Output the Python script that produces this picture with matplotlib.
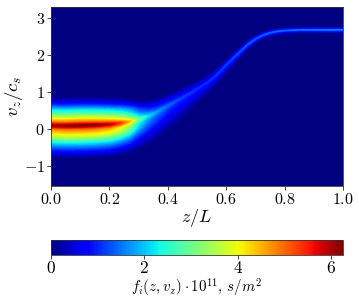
import numpy as np
import matplotlib
matplotlib.use("Agg")
import matplotlib.pyplot as plt
from matplotlib.cm import ScalarMappable
from matplotlib.colors import Normalize

plt.rcParams['mathtext.fontset'] = 'cm'
plt.rcParams['font.family'] = ['cmr10', 'DejaVu Sans']
plt.rcParams['axes.formatter.use_mathtext'] = True

# ridge, one entry per z station
z_stations = [0.0, 0.05, 0.1, 0.15, 0.2, 0.24, 0.27, 0.3, 0.33, 0.36, 0.4, 0.425, 0.45, 0.475, 0.5, 0.525, 0.55, 0.575, 0.6, 0.625, 0.65, 0.675, 0.7, 0.725, 0.75, 0.775, 0.8, 0.85, 0.9, 1.0]
ridge_v = [0.10, 0.09, 0.10, 0.11, 0.13, 0.17, 0.21, 0.27, 0.35, 0.46, 0.64, 0.75, 0.86, 0.97, 1.09, 1.21, 1.35, 1.53, 1.74, 1.93, 2.12, 2.30, 2.44, 2.54, 2.61, 2.65, 2.67, 2.69, 2.69, 2.69]
ridge_peak = [6.1, 6.2, 6.26, 6.2, 5.9, 5.3, 4.4, 3.0, 2.2, 1.75, 1.4, 1.25, 1.15, 1.08, 1.05, 1.05, 1.05, 1.1, 1.15, 1.2, 1.25, 1.3, 1.3, 1.35, 1.35, 1.4, 1.4, 1.45, 1.5, 1.55]
spread_up = [0.94, 0.94, 0.94, 0.92, 0.88, 0.82, 0.76, 0.66, 0.56, 0.48, 0.4, 0.37, 0.34, 0.32, 0.3, 0.27, 0.25, 0.22, 0.2, 0.18, 0.17, 0.15, 0.14, 0.12, 0.11, 0.1, 0.1, 0.1, 0.1, 0.1]
spread_down = [0.94, 0.94, 0.94, 0.94, 0.94, 0.93, 0.92, 0.9, 0.88, 0.85, 0.78, 0.72, 0.65, 0.56, 0.46, 0.38, 0.32, 0.28, 0.25, 0.21, 0.18, 0.15, 0.13, 0.12, 0.11, 0.1, 0.1, 0.1, 0.1, 0.1]

# across-ridge profile read at z = 0 (offset from ridge, fraction of the peak)
profile_offset = [-0.95, -0.85, -0.78, -0.7, -0.6, -0.5, -0.38, -0.26, -0.17, -0.1, -0.03, 0.0, 0.03, 0.1, 0.2, 0.3, 0.38, 0.45, 0.52, 0.6, 0.7, 0.78, 0.85]
profile_level = [0.0, 0.05, 0.1, 0.16, 0.25, 0.35, 0.5, 0.64, 0.72, 0.79, 0.95, 1.0, 0.95, 0.79, 0.64, 0.5, 0.42, 0.35, 0.26, 0.16, 0.07, 0.03, 0.0]

x_ticks = [0.0, 0.2, 0.4, 0.6, 0.8, 1.0]
x_tick_labels = ['$0.0$', '$0.2$', '$0.4$', '$0.6$', '$0.8$', '$1.0$']
y_ticks = [-1, 0, 1, 2, 3]
y_tick_labels = ['$-1$', '$0$', '$1$', '$2$', '$3$']
cbar_ticks = [0, 2, 4, 6]
cbar_tick_labels = ['$0$', '$2$', '$4$', '$6$']

W, H = 359, 307
fig = plt.figure(figsize=(W / 100, H / 100), dpi=100)
ax = fig.add_axes([51 / W, 1 - 185.7 / H, 292 / W, 178.4 / H])
cax = fig.add_axes([51 / W, 1 - 255 / H, 292 / W, 15 / H])

norm = Normalize(0, 6.26)
cmap = plt.get_cmap('jet')
ax.set_facecolor(cmap(0))

off = np.array(profile_offset)
spread = np.where(off[None, :] < 0, np.array(spread_down)[:, None], np.array(spread_up)[:, None])
V = np.array(ridge_v)[:, None] + off[None, :] * spread
Z = np.repeat(np.array(z_stations)[:, None], len(off), axis=1)
F = np.array(ridge_peak)[:, None] * np.array(profile_level)[None, :]
ax.contourf(Z, V, F, levels=np.linspace(0, 6.26, 160), cmap=cmap, norm=norm)

ax.set_xlim(0, 1)
ax.set_ylim(-1.53, 3.3)
ax.set_xticks(x_ticks)
ax.set_xticklabels(x_tick_labels, fontsize=11.5)
ax.set_yticks(y_ticks)
ax.set_yticklabels(y_tick_labels, fontsize=11.5)
ax.tick_params(axis='x', length=3, width=0.6, color='#222222', pad=1.5)
ax.tick_params(axis='y', length=3, width=0.6, color='#222222', pad=1.5)
ax.set_xlabel('$z/L$', fontsize=13)
ax.xaxis.set_label_coords(0.5, -0.12)
ax.set_ylabel('$v_z/c_s$', fontsize=13.5)
ax.yaxis.set_label_coords(-0.089, 0.5)
for s in ax.spines.values():
    s.set_linewidth(0.6)
    s.set_color('#333333')

cb = fig.colorbar(ScalarMappable(norm=norm, cmap=cmap), cax=cax, orientation='horizontal')
cb.set_ticks(cbar_ticks)
cb.set_ticklabels(cbar_tick_labels, fontsize=12.5)
cb.ax.tick_params(length=3, width=0.6, color='#222222', pad=0.5)
cb.outline.set_linewidth(0.6)
cb.outline.set_edgecolor('#333333')
cb.set_label(r'$f_i(z,v_z)\cdot 10^{11},\, s/m^2$', fontsize=10.8, labelpad=0.5)

fig.savefig('out.png', dpi=100)
